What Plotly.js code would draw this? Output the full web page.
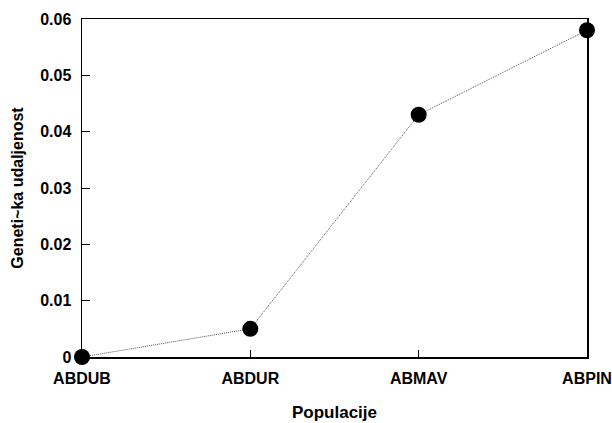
<!DOCTYPE html>
<html><head><meta charset="utf-8">
<script src="https://cdn.plot.ly/plotly-3.0.1.min.js"></script>
<style>body{margin:0;padding:0;background:#fff}#c{width:612px;height:423px}</style>
</head><body><div id="c"></div>
<script>
const categories = ["ABDUB", "ABDUR", "ABMAV", "ABPIN"];
const distances = [0, 0.005, 0.043, 0.058];
const yTicks = [0, 0.01, 0.02, 0.03, 0.04, 0.05, 0.06];
const yTickLabels = ["0", "0.01", "0.02", "0.03", "0.04", "0.05", "0.06"];
const xPos = categories.map((c, i) => i);

const fam = "Liberation Sans, Arial, sans-serif";
Plotly.newPlot("c", [{
  x: xPos, y: distances, type: "scatter", mode: "lines+markers",
  line: {color: "#555", width: 1, dash: "1px,1px"},
  marker: {color: "#000", size: 16},
  cliponaxis: false, hoverinfo: "none"
}], {
  width: 612, height: 423,
  margin: {l: 82, r: 25, t: 19, b: 66},
  paper_bgcolor: "#fff", plot_bgcolor: "#fff",
  showlegend: false,
  font: {family: fam, size: 16, color: "#000"},
  xaxis: {
    range: [0, 3], tickvals: xPos, ticktext: categories.map(c => "<b>" + c + "</b>"),
    ticks: "inside", ticklen: 7, tickcolor: "#000", tickwidth: 1,
    showline: true, linecolor: "#000", linewidth: 1.5, mirror: true,
    showgrid: false, zeroline: false, ticklabelstandoff: 6,
    tickfont: {family: fam, size: 16, color: "#000"},
    title: {text: "<b>Populacije</b>", font: {family: fam, size: 17, color: "#000"}, standoff: 20}
  },
  yaxis: {
    range: [0, 0.06], tickvals: yTicks, ticktext: yTickLabels.map(t => "<b>" + t + "</b>"),
    ticks: "inside", ticklen: 8, tickcolor: "#000", tickwidth: 1,
    showline: true, linecolor: "#000", linewidth: 1.5, mirror: true,
    showgrid: false, zeroline: false, ticklabelstandoff: 6,
    tickfont: {family: fam, size: 16, color: "#000"},
    title: {text: "<b>Geneti~ka udaljenost</b>", font: {family: fam, size: 16, color: "#000"}, standoff: 12}
  }
}, {staticPlot: true});
</script></body></html>
